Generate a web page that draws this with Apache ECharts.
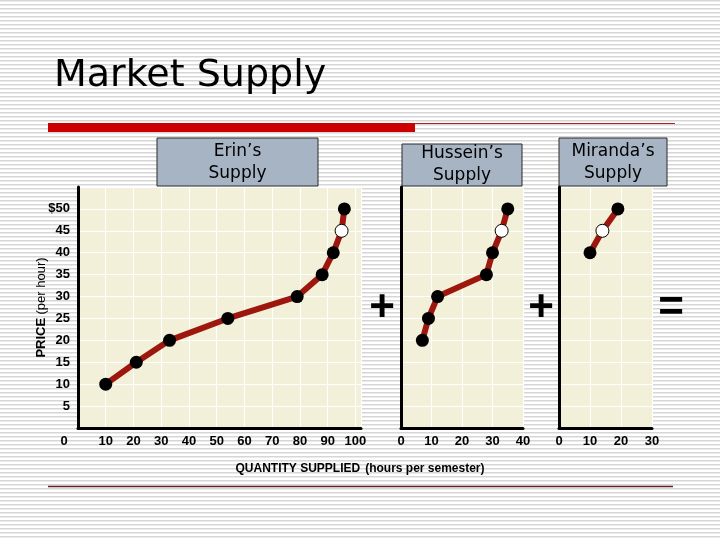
<!DOCTYPE html>
<html>
<head>
<meta charset="utf-8">
<script src="https://cdn.jsdelivr.net/npm/echarts@6/dist/echarts.min.js"></script>
<style>html,body{margin:0;padding:0;background:#fff;}#main{width:720px;height:540px;}</style>
</head>
<body>
<div id="main"></div>
<script>
// ---- data ----
var erinPrice = [10, 15, 20, 25, 30, 35, 40, 45, 50];
var erinQty = [10, 21, 33, 54, 79, 88, 92, 95, 96];
var husseinPrice = [20, 25, 30, 35, 40, 45, 50];
var husseinQty = [7, 9, 12, 28, 30, 33, 35];
var mirandaPrice = [40, 45, 50];
var mirandaQty = [10, 14, 19];
var openPrice = 45; // hollow marker price
var priceTicks = [5, 10, 15, 20, 25, 30, 35, 40, 45, 50];

var chart = echarts.init(document.getElementById('main'), null, {renderer: 'canvas'});

// striped slide background
var pc = document.createElement('canvas');
pc.width = 4; pc.height = 4;
var pctx = pc.getContext('2d');
pctx.fillStyle = '#ffffff'; pctx.fillRect(0, 0, 4, 4);
pctx.fillStyle = '#d6d6d6'; pctx.fillRect(0, 0, 4, 1);
pctx.fillStyle = '#ebebeb'; pctx.fillRect(0, 1, 4, 1);

var LINE = '#9e170e';
var BEIGE = '#f3f0da';
var labelFont = {fontFamily: 'Liberation Sans, Arial, sans-serif', fontWeight: 'bold', fontSize: 13, color: '#000'};

function pts(q, p) {
  return q.map(function (x, i) {
    var item = {value: [x, p[i]]};
    if (p[i] === openPrice) item.itemStyle = {color: '#fff', borderColor: '#000', borderWidth: 1};
    return item;
  });
}

function yAx(idx, showLabels, withName) {
  var a = {
    type: 'value', gridIndex: idx, min: 0, max: 55, interval: 5,
    axisLine: {show: true, lineStyle: {color: '#000', width: 3}},
    axisTick: {show: false},
    splitLine: {show: true, lineStyle: {color: '#ffffff', width: 1}},
    axisLabel: Object.assign({
      show: showLabels, margin: 8,
      formatter: function (v) {
        if (priceTicks.indexOf(v) < 0) return '';
        return v === 50 ? '$50' : String(v);
      }
    }, labelFont)
  };
  if (withName) {
    a.name = '{b|PRICE} {n|(per hour)}';
    a.nameLocation = 'middle';
    a.nameRotate = 90;
    a.nameGap = 30;
    a.nameMoveOverlap = false;
    a.nameTextStyle = {
      rich: {
        b: {fontFamily: 'Liberation Sans, Arial', fontWeight: 'bold', fontSize: 13, color: '#000'},
        n: {fontFamily: 'Liberation Sans, Arial', fontSize: 13, color: '#000'}
      }
    };
  }
  return a;
}

function xAx(idx, max, shiftZero) {
  return {
    type: 'value', gridIndex: idx, min: 0, max: max, interval: 10,
    axisLine: {show: true, lineStyle: {color: '#000', width: 3}},
    axisTick: {show: false},
    splitLine: {show: true, lineStyle: {color: '#ffffff', width: 1}},
    axisLabel: Object.assign({
      margin: 7,
      showMaxLabel: true,
      formatter: function (v) {
        if (v % 10 !== 0) return '';
        if (v === 0 && shiftZero) return '{z|0}';
        return String(v);
      },
      rich: {z: Object.assign({padding: [0, 28, 0, 0]}, labelFont)}
    }, labelFont)
  };
}

function seriesFor(idx, q, p) {
  return {
    type: 'line', xAxisIndex: idx, yAxisIndex: idx,
    data: pts(q, p),
    symbol: 'circle', symbolSize: 13,
    lineStyle: {color: LINE, width: 6},
    itemStyle: {color: '#000', borderColor: '#000', borderWidth: 0},
    emphasis: {disabled: true},
    animation: false, z: 3
  };
}

function box(x, y, w, h, label, cx, cy) {
  return {
    type: 'group', z: 1,
    children: [
      {type: 'rect', shape: {x: x, y: y, width: w, height: h},
       style: {fill: '#a7b4c4', stroke: '#2b2b2b', lineWidth: 1}},
      {type: 'text', x: cx, y: cy,
       style: {text: label, font: '17px "DejaVu Sans", Verdana, sans-serif', fill: '#000',
               align: 'center', verticalAlign: 'middle', lineHeight: 22}}
    ]
  };
}

var option = {
  backgroundColor: {image: pc, repeat: 'repeat'},
  animation: false,
  title: [
    {text: 'Market Supply', left: 54, top: 57, padding: 0,
     textStyle: {fontFamily: 'DejaVu Sans, Verdana, sans-serif', fontWeight: 'normal', fontSize: 38, color: '#000'}},
    {text: '{b|QUANTITY SUPPLIED} {n|(hours per semester)}', left: 'center', top: 460, padding: 0,
     textStyle: {rich: {
       b: {fontFamily: 'Liberation Sans, Arial', fontWeight: 'bold', fontSize: 12, color: '#000'},
       n: {fontFamily: 'Liberation Sans, Arial', fontSize: 12, color: '#000'}
     }}}
  ],
  grid: [
    {left: 78, top: 187, width: 283, height: 241, show: true, backgroundColor: BEIGE, borderWidth: 0, containLabel: false},
    {left: 401, top: 187, width: 122, height: 241, show: true, backgroundColor: BEIGE, borderWidth: 0, containLabel: false},
    {left: 559, top: 187, width: 93, height: 241, show: true, backgroundColor: BEIGE, borderWidth: 0, containLabel: false}
  ],
  xAxis: [xAx(0, 102, true), xAx(1, 40, false), xAx(2, 30, false)],
  yAxis: [yAx(0, true, true), yAx(1, false, false), yAx(2, false, false)],
  series: [
    seriesFor(0, erinQty, erinPrice),
    seriesFor(1, husseinQty, husseinPrice),
    seriesFor(2, mirandaQty, mirandaPrice)
  ],
  graphic: [
    {type: 'rect', shape: {x: 48, y: 123, width: 367, height: 9}, style: {fill: '#cc0000'}},
    {type: 'line', shape: {x1: 415, y1: 123.5, x2: 675, y2: 123.5}, style: {stroke: '#b3202a', lineWidth: 1}},
    {type: 'line', shape: {x1: 48, y1: 486.5, x2: 673, y2: 486.5}, style: {stroke: '#6a1d2b', lineWidth: 1.5}},
    box(157, 138, 161, 48, 'Erin’s\nSupply', 237.5, 163),
    box(402, 144, 120, 42, 'Hussein’s\nSupply', 462, 165),
    box(559, 138, 108, 48, 'Miranda’s\nSupply', 613, 163),
    {type: 'text', x: 382, y: 309, z: 5,
     style: {text: '+', font: 'bold 44px "Liberation Sans", Arial', fill: '#000', align: 'center', verticalAlign: 'middle'}},
    {type: 'text', x: 541, y: 309, z: 5,
     style: {text: '+', font: 'bold 44px "Liberation Sans", Arial', fill: '#000', align: 'center', verticalAlign: 'middle'}},
    {type: 'text', x: 671, y: 309, z: 5,
     style: {text: '=', font: 'bold 44px "Liberation Sans", Arial', fill: '#000', align: 'center', verticalAlign: 'middle'}}
  ]
};
chart.setOption(option);
</script>
</body>
</html>
